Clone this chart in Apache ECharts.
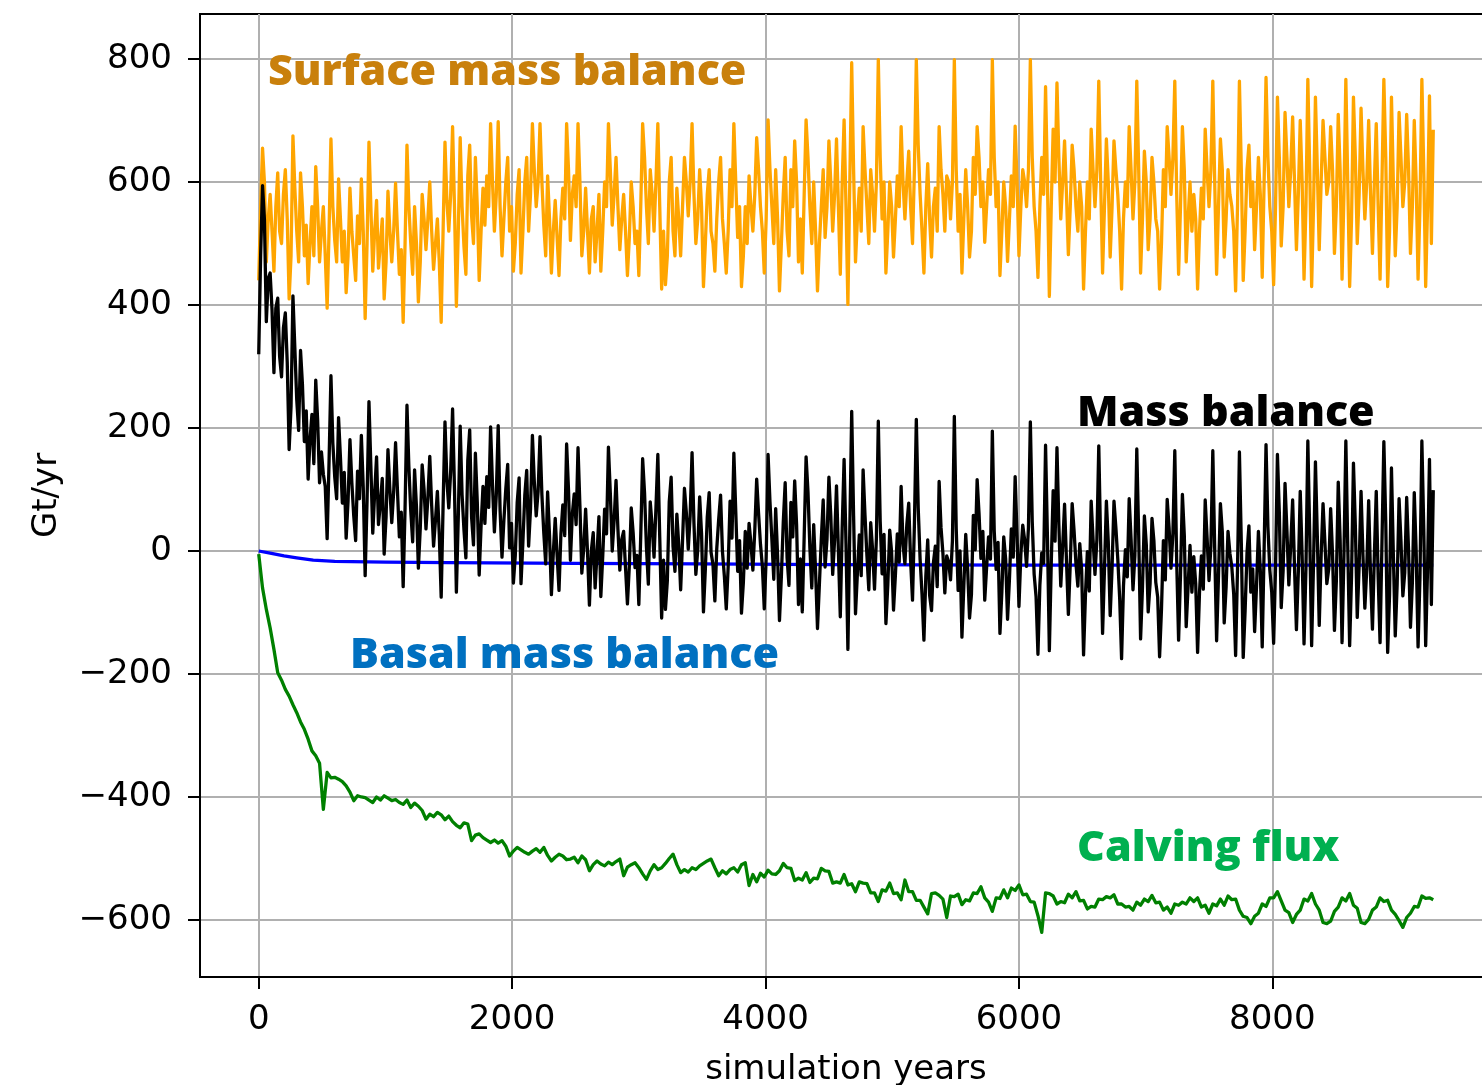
<!DOCTYPE html>
<html><head><meta charset="utf-8">
<script src="https://cdn.jsdelivr.net/npm/echarts@6/dist/echarts.min.js"></script>
<style>html,body{margin:0;padding:0;background:#fff}#c{width:1482px;height:1085px}</style>
</head><body><div id="c"></div>
<script>
// sampling steps (years)
const YEAR_STEP = 15;   // surface mass balance and mass balance
const GREEN_STEP = 30;  // calving flux

// Surface mass balance (Gt/yr), one row = 300 years
const orange = [
  440, 560, 655, 600, 470, 540, 580, 520, 455, 560, 615, 520, 500, 580, 620, 540, 410, 480, 675, 590,
  520, 470, 615, 560, 480, 530, 435, 500, 560, 480, 625, 560, 470, 520, 560, 480, 395, 520, 670, 560,
  505, 470, 605, 540, 470, 520, 420, 480, 590, 520, 480, 440, 545, 500, 605, 520, 378, 500, 665, 560,
  455, 520, 570, 460, 500, 540, 410, 470, 585, 520, 470, 520, 598, 520, 450, 490, 372, 500, 660, 560,
  500, 450, 560, 500, 405, 470, 580, 540, 490, 540, 600, 520, 458, 500, 540, 470, 372, 520, 665, 570,
  520, 580, 690, 560, 398, 520, 672, 560, 495, 450, 610, 660, 545, 500, 640, 560, 440, 520, 590, 530,
  610, 560, 695, 600, 520, 580, 698, 560, 480, 540, 600, 640, 520, 560, 455, 500, 580, 620, 452, 520,
  600, 640, 520, 580, 695, 620, 560, 600, 695, 600, 530, 480, 610, 540, 452, 520, 570, 510, 448, 540,
  590, 540, 695, 620, 505, 580, 610, 560, 695, 600, 480, 520, 590, 520, 452, 540, 560, 470, 520, 580,
  455, 520, 600, 560, 695, 620, 530, 580, 640, 560, 490, 540, 580, 520, 448, 510, 600, 560, 500, 520,
  448, 560, 695, 640, 560, 500, 620, 580, 520, 600, 695, 560, 426, 520, 433, 480, 600, 640, 520, 480,
  590, 540, 480, 560, 640, 600, 545, 600, 695, 580, 500, 540, 620, 560, 430, 500, 580, 620, 520, 500,
  455, 540, 600, 640, 540, 500, 452, 520, 620, 560, 695, 600, 510, 560, 430, 480, 560, 500, 610, 560,
  520, 580, 672, 620, 560, 520, 452, 540, 701, 620, 560, 500, 620, 540, 423, 500, 580, 640, 520, 480,
  620, 560, 667, 600, 470, 540, 452, 580, 701, 640, 560, 500, 600, 520, 423, 500, 560, 620, 510, 560,
  667, 600, 520, 580, 670, 560, 450, 600, 701, 560, 401, 600, 794, 620, 470, 540, 590, 520, 690, 620,
  560, 500, 620, 580, 520, 600, 799, 640, 540, 600, 452, 520, 600, 560, 478, 540, 610, 560, 690, 600,
  540, 600, 650, 560, 500, 620, 799, 660, 580, 520, 452, 560, 630, 540, 478, 560, 590, 520, 690, 620,
  580, 520, 610, 600, 540, 600, 799, 620, 520, 580, 452, 540, 620, 560, 478, 520, 640, 580, 690, 640,
  560, 600, 502, 560, 620, 580, 799, 640, 560, 600, 448, 520, 600, 560, 471, 540, 610, 560, 691, 600,
  480, 560, 620, 600, 560, 620, 799, 640, 560, 520, 445, 560, 640, 580, 755, 600, 414, 560, 686, 600,
  761, 640, 540, 600, 667, 580, 482, 560, 660, 620, 560, 520, 600, 560, 426, 520, 600, 540, 686, 620,
  560, 620, 764, 600, 452, 560, 670, 600, 478, 560, 667, 620, 580, 520, 426, 540, 600, 560, 690, 620,
  540, 600, 764, 620, 452, 540, 650, 600, 490, 540, 640, 600, 540, 520, 426, 500, 620, 560, 690, 640,
  580, 640, 764, 580, 450, 560, 690, 620, 470, 540, 600, 520, 580, 540, 426, 520, 590, 540, 686, 620,
  560, 620, 764, 600, 450, 560, 670, 620, 478, 540, 620, 580, 560, 520, 423, 560, 764, 620, 440, 520,
  620, 660, 560, 600, 490, 560, 640, 580, 445, 600, 770, 640, 560, 520, 433, 560, 738, 640, 496, 560,
  713, 640, 560, 620, 706, 600, 490, 580, 700, 600, 442, 560, 767, 620, 430, 560, 738, 620, 490, 600,
  700, 640, 580, 600, 690, 620, 484, 560, 710, 620, 442, 580, 767, 600, 430, 540, 738, 640, 500, 580,
  720, 620, 540, 600, 700, 580, 484, 600, 695, 560, 442, 600, 767, 640, 430, 520, 738, 600, 480, 560,
  713, 640, 560, 600, 710, 620, 484, 560, 700, 600, 442, 560, 767, 620, 430, 560, 740, 500, 685
];

// Mass balance (Gt/yr), one row = 300 years
const black = [
  320, 480, 594, 539, 373, 443, 452, 392, 290, 395, 411, 316, 283, 363, 387, 307, 165, 235, 415, 330,
  246, 196, 326, 271, 178, 228, 117, 182, 222, 142, 278, 213, 111, 161, 125, 105, 20, 145, 285, 175,
  120, 85, 217, 152, 78, 128, 21, 81, 181, 111, 57, 17, 130, 85, 188, 103, -40, 82, 243, 138,
  29, 94, 153, 43, 78, 118, -5, 55, 165, 100, 46, 96, 176, 98, 23, 63, -58, 70, 237, 137,
  65, 15, 132, 72, -28, 37, 140, 100, 36, 86, 154, 74, 8, 50, 97, 27, -75, 73, 210, 115,
  70, 130, 231, 101, -67, 55, 203, 91, 34, -11, 147, 197, 55, 10, 159, 79, -39, 41, 105, 45,
  121, 71, 202, 107, 31, 91, 204, 66, -10, 50, 101, 141, 5, 45, -52, -7, 79, 119, -53, 15,
  91, 131, 8, 68, 188, 113, 57, 97, 186, 91, 29, -21, 96, 26, -71, -3, 53, -7, -64, 28,
  75, 25, 174, 99, -15, 60, 93, 43, 168, 73, -36, 4, 68, -2, -88, 0, 30, -60, -4, 56,
  -74, -9, 68, 28, 169, 94, 0, 50, 115, 35, -31, 19, 32, -28, -86, -24, 70, 30, -27, -7,
  -87, 25, 150, 95, 6, -54, 80, 40, -10, 70, 157, 22, -109, -15, -95, -48, 80, 120, 7, -33,
  60, 10, -63, 17, 102, 62, 3, 58, 160, 45, -38, 2, 88, 28, -99, -29, 55, 95, -2, -22,
  -81, 4, 51, 91, -1, -41, -94, -26, 81, 21, 159, 64, -33, 17, -101, -51, 32, -28, 45, 12,
  -31, 33, 117, 61, 11, -25, -94, -11, 157, 80, 19, -46, 69, -7, -113, -41, 47, 111, -11, -56,
  79, 23, 114, 43, -87, -13, -99, 24, 153, 96, 5, -60, 43, -33, -126, -54, 19, 83, -26, 19,
  120, 57, -38, 18, 106, 0, -107, 38, 149, 12, -160, 35, 227, 57, -102, -36, 26, -40, 132, 58,
  -7, -63, 46, 2, -62, 22, 211, 48, -37, 27, -118, -55, 34, -2, -96, -39, 28, -18, 105, 11,
  -21, 43, 78, -16, -80, 44, 214, 70, -14, -70, -145, -41, 18, -72, -97, -19, 8, -58, 113, 38,
  -4, -68, -8, -18, -47, 17, 219, 36, -64, 0, -140, -57, 27, -29, -109, -71, 58, 2, 116, 61,
  -12, 32, -80, -26, 23, -13, 195, 32, -30, 14, -134, -67, 23, -13, -111, -46, 36, -10, 121, 26,
  -90, -6, 42, 18, -25, 39, 210, 47, -38, -74, -168, -56, -3, -20, 172, 21, -162, -20, 98, 16,
  168, 43, -57, 7, 76, -15, -103, -21, 77, 33, -21, -57, 12, -32, -169, -71, -1, -65, 81, 19,
  -38, 18, 171, 11, -134, -30, 81, 15, -105, -27, 81, 38, -13, -77, -175, -57, 2, -42, 85, 19,
  -63, -7, 166, 26, -143, -59, 57, 11, -99, -53, 53, 17, -51, -75, -172, -94, 17, -47, 84, 38,
  -28, 28, 163, -17, -145, -39, 92, 26, -123, -57, 9, -67, -9, -53, -165, -67, -8, -62, 83, 21,
  -48, 8, 163, 3, -146, -40, 77, 31, -117, -59, 32, -4, -26, -70, -170, -29, 161, 13, -173, -97,
  -3, 41, -67, -29, -131, -57, 32, -32, -156, 3, 173, 39, -31, -67, -150, -27, 157, 63, -92, -32,
  110, 33, -55, 9, 83, -27, -128, -34, 97, -7, -151, -29, 179, 28, -154, -20, 145, 23, -121, -7,
  77, 13, -53, -29, 69, -5, -129, -49, 112, 18, -149, -7, 179, 8, -154, -40, 143, 41, -108, -24,
  97, -7, -93, -29, 82, -42, -127, -7, 97, -42, -149, 13, 178, 47, -165, -71, 135, -7, -138, -54,
  85, 16, -73, -35, 87, 1, -124, -52, 95, -1, -156, -42, 179, 36, -154, -28, 149, -87, 99
];

// Calving flux (Gt/yr), one row = 300 years
const green = [
  -5, -60, -95, -125, -160, -198, -210, -225, -236, -250,
  -263, -278, -290, -306, -325, -333, -345, -420, -360, -369,
  -368, -371, -375, -382, -392, -406, -398, -400, -401, -405,
  -409, -400, -405, -398, -402, -406, -404, -409, -412, -405,
  -417, -410, -415, -422, -436, -428, -432, -425, -429, -437,
  -431, -440, -446, -450, -442, -444, -471, -462, -460, -466,
  -470, -474, -470, -475, -471, -480, -496, -488, -482, -486,
  -490, -493, -488, -484, -490, -482, -495, -504, -498, -493,
  -496, -502, -501, -498, -507, -496, -502, -520, -510, -504,
  -509, -512, -506, -510, -505, -501, -528, -514, -510, -507,
  -515, -525, -534, -520, -510, -518, -515, -508, -500, -493,
  -510, -523, -518, -522, -515, -518, -512, -508, -504, -501,
  -515, -528, -520, -525, -518, -515, -522, -510, -507, -544,
  -526, -538, -524, -530, -519, -525, -526, -520, -508, -515,
  -516, -536, -532, -535, -523, -539, -532, -533, -516, -520,
  -521, -540, -538, -540, -526, -543, -541, -554, -538, -540,
  -541, -556, -556, -570, -551, -553, -540, -557, -556, -567,
  -535, -554, -554, -568, -568, -579, -590, -557, -556, -560,
  -566, -596, -561, -562, -558, -575, -567, -569, -556, -557,
  -546, -564, -571, -586, -564, -565, -551, -564, -548, -552,
  -543, -559, -558, -570, -571, -593, -620, -556, -557, -561,
  -574, -570, -572, -558, -564, -554, -569, -568, -582, -578,
  -579, -566, -567, -562, -564, -559, -574, -574, -579, -578,
  -584, -571, -576, -566, -570, -560, -572, -571, -584, -579,
  -589, -574, -576, -571, -574, -564, -570, -564, -579, -576,
  -589, -574, -577, -566, -576, -561, -567, -566, -584, -594,
  -596, -606, -594, -589, -574, -578, -564, -564, -554, -569,
  -584, -588, -604, -591, -584, -566, -569, -557, -574, -584,
  -604, -606, -602, -586, -579, -564, -569, -557, -576, -581,
  -604, -606, -599, -584, -579, -564, -570, -568, -584, -591,
  -601, -612, -596, -589, -578, -579, -561, -565, -564, -567
];

// Basal mass balance (Gt/yr), smooth
const blueYears = [0, 100, 200, 300, 430, 600, 1000, 1500, 2500, 3500, 4500, 6000, 7500, 9270];
const blue      = [0, -4, -8, -11, -15, -17, -18, -19, -20, -21, -22, -23, -23, -23];

const xTickValues = [0, 2000, 4000, 6000, 8000];
const yTickValues = [-600, -400, -200, 0, 200, 400, 600, 800];

const years = orange.map((_, i) => i * YEAR_STEP);
const greenYears = green.map((_, i) => i * GREEN_STEP);
const pairs = (xs, ys) => ys.map((v, i) => [xs[i], v]);
const fmtY = v => (v < 0 ? '\u2212' + Math.abs(v) : String(v));

const chart = echarts.init(document.getElementById('c'));
const axisFont = { fontFamily: 'DejaVu Sans', fontSize: 34, color: '#000' };
const lineSeries = (name, data, color, z, w) => ({
  name, type: 'line', data, showSymbol: false, symbol: 'none', silent: true, z,
  lineStyle: { color, width: w, join: 'round' }, itemStyle: { color }
});
const annFont = '800 43px "Open Sans"';

chart.setOption({
  animation: false,
  backgroundColor: '#ffffff',
  grid: { left: 200, top: 14, right: -10, bottom: 108, outerBoundsMode: 'none', containLabel: false,
          show: true, borderColor: '#000', borderWidth: 2, backgroundColor: 'transparent' },
  xAxis: {
    type: 'value', min: -463.5, max: 9733.5, splitNumber: 5,
    name: 'simulation years', nameLocation: 'middle', nameGap: 76,
    nameTextStyle: axisFont,
    axisLine: { show: true, onZero: false, lineStyle: { color: '#000', width: 2 } },
    axisTick: { show: true, length: 12, customValues: xTickValues, lineStyle: { color: '#000', width: 2 } },
    axisLabel: Object.assign({ customValues: xTickValues, margin: 26, formatter: v => String(v) }, axisFont),
    splitLine: { show: true, lineStyle: { color: '#b0b0b0', width: 2 } }
  },
  yAxis: {
    type: 'value', min: -692.7, max: 873.2, splitNumber: 8,
    name: 'Gt/yr', nameLocation: 'middle', nameGap: 136, nameRotate: 90,
    nameTextStyle: axisFont,
    axisLine: { show: true, onZero: false, lineStyle: { color: '#000', width: 2 } },
    axisTick: { show: true, length: 12, customValues: yTickValues, lineStyle: { color: '#000', width: 2 } },
    axisLabel: Object.assign({ customValues: yTickValues, margin: 28, formatter: fmtY }, axisFont),
    splitLine: { show: true, lineStyle: { color: '#b0b0b0', width: 2 } }
  },
  series: [
    lineSeries('Surface mass balance', pairs(years, orange), '#FFA500', 2, 3.3),
    lineSeries('Basal mass balance', pairs(blueYears, blue), '#0000FF', 3, 3.3),
    lineSeries('Calving flux', pairs(greenYears, green), '#008000', 3, 3.3),
    lineSeries('Mass balance', pairs(years, black), '#000000', 4, 3.3)
  ],
  graphic: [
    { type: 'text', x: 268, y: 73, z: 10, style: { text: 'Surface mass balance', font: annFont, fill: '#C9800C', textVerticalAlign: 'middle' } },
    { type: 'text', x: 1077, y: 414, z: 10, style: { text: 'Mass balance', font: annFont, fill: '#000000', textVerticalAlign: 'middle' } },
    { type: 'text', x: 350, y: 656, z: 10, style: { text: 'Basal mass balance', font: annFont, fill: '#0070C0', textVerticalAlign: 'middle' } },
    { type: 'text', x: 1077, y: 849, z: 10, style: { text: 'Calving flux', font: annFont, fill: '#00B050', textVerticalAlign: 'middle' } }
  ]
});
</script>
</body></html>
